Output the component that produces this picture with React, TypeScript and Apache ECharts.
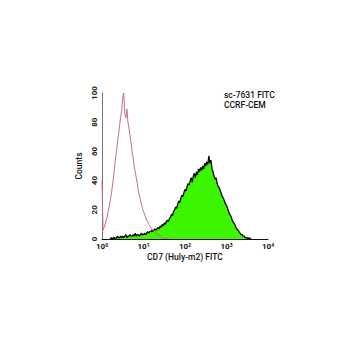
import React, { useEffect, useRef } from "react";
import * as echarts from "echarts";

const STEP = 0.025;
const controlStart = 0;
const controlCounts = [
  40, 6, 8, 10, 13, 15, 19, 22, 27, 31, 36, 42, 48, 55, 60, 67, 72, 78, 84, 88,
  97, 100, 86, 83, 89, 80, 76, 71, 66, 60, 56, 50, 46, 42, 38, 33, 30, 27, 24, 21,
  19, 17, 15, 13, 12, 10, 9, 8, 7, 6, 5, 4, 4, 3, 3, 2, 2, 2, 1, 1, 1, 0, 1, 0, 0,
];
const stainStart = 0.2;
const stainCounts = [
  0, 1, 0, 1, 1, 0, 1, 2, 1, 1, 2, 1, 2, 1, 2, 3, 1, 2, 2, 3, 2, 2, 3, 2, 4, 2, 3, 3, 2, 3, 4, 3, 3,
  4, 3, 4, 5, 4, 5, 5, 6, 5, 6, 7, 6, 7, 8, 7, 9, 8, 10, 9, 11, 10, 12, 13, 12, 14, 15, 17, 16,
  19, 20, 22, 21, 24, 26, 25, 28, 30, 29, 32, 34, 33, 36, 38, 37, 40, 42, 39, 43, 45, 42, 46,
  44, 48, 46, 49, 47, 50, 48, 52, 50, 53, 51, 57, 52, 54, 48, 46, 43, 41, 42, 38, 36, 35, 33,
  31, 29, 28, 26, 24, 23, 21, 19, 17, 16, 14, 12, 11, 10, 8, 7, 6, 5, 4, 3, 3, 2, 2, 1, 1, 1,
  0, 1, 0, 0,
];
const xDecades = [0, 1, 2, 3, 4];
const yTicks = [0, 20, 40, 60, 80, 100];
const xTitle = "CD7 (Huly-m2) FITC";
const yTitle = "Counts";
const noteLines = ["sc-7631 FITC", "CCRF-CEM"];

const FONT = "Roboto, 'Liberation Sans', sans-serif";

export default function App() {
  const ref = useRef<HTMLDivElement>(null);
  useEffect(() => {
    if (!ref.current) return;
    const chart = echarts.init(ref.current, undefined, { renderer: "svg" });
    const control = controlCounts.map((c, i) => [controlStart + i * STEP, c]);
    const stain = stainCounts.map((c, i) => [stainStart + i * STEP, c]);
    chart.setOption({
      animation: false,
      backgroundColor: "#ffffff",
      grid: { left: 102, right: 82, top: 93, bottom: 111 },
      xAxis: {
        type: "value",
        min: xDecades[0],
        max: xDecades[xDecades.length - 1],
        interval: 1,
        name: xTitle,
        nameLocation: "middle",
        nameGap: 13,
        nameTextStyle: { fontFamily: FONT, fontSize: 8.5, color: "#111", fontWeight: 500 },
        axisLine: { lineStyle: { color: "#111", width: 1 } },
        axisTick: { show: false },
        splitLine: { show: false },
        axisLabel: {
          margin: 3,
          formatter: (v: number) => `{b|10}{s|${v}}`,
          rich: {
            b: { fontFamily: FONT, fontSize: 8, color: "#111", fontWeight: "bold" },
            s: { fontFamily: FONT, fontSize: 5, color: "#111", fontWeight: "bold", verticalAlign: "top", padding: [0, 0, 4, 0] },
          },
        },
      },
      yAxis: {
        type: "value",
        min: yTicks[0],
        max: yTicks[yTicks.length - 1],
        interval: 20,
        name: yTitle,
        nameLocation: "middle",
        nameGap: 19,
        nameTextStyle: { fontFamily: FONT, fontSize: 8.5, color: "#111", fontWeight: 500 },
        axisLine: { show: true, lineStyle: { color: "#777", width: 1 } },
        axisTick: { show: false },
        splitLine: { show: false },
        axisLabel: {
          rotate: 90,
          margin: 4,
          fontFamily: FONT,
          fontSize: 8,
          color: "#222",
          fontWeight: "bold",
        },
      },
      series: [
        {
          type: "line",
          data: stain,
          showSymbol: false,
          symbol: "none",
          lineStyle: { color: "#0a0a0a", width: 1.3 },
          areaStyle: { color: "#3cf500", opacity: 1 },
          z: 2,
        },
        {
          type: "line",
          data: control,
          showSymbol: false,
          symbol: "none",
          lineStyle: { color: "#c07080", width: 1 },
          z: 3,
        },
      ],
      graphic: noteLines.map((t, i) => ({
        type: "text",
        left: 224,
        top: 90 + i * 10,
        style: { text: t, fontFamily: FONT, fontSize: 8.5, fill: "#111", fontWeight: 500 },
      })),
    });
    return () => chart.dispose();
  }, []);
  return (
    <div
      ref={ref}
      style={{ position: "fixed", left: 0, top: 0, width: 350, height: 350, background: "#fff" }}
    />
  );
}
